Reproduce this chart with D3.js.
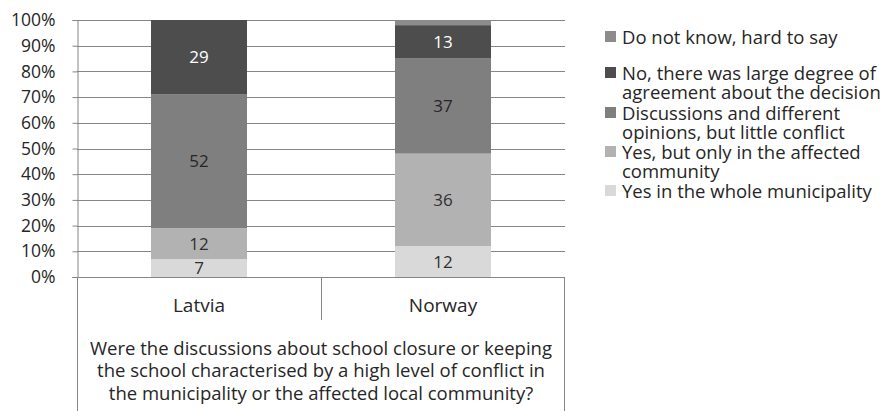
<!DOCTYPE html>
<html>
<head>
<meta charset="utf-8">
<script src="https://cdn.jsdelivr.net/npm/d3@7"></script>
<style>
  body { margin: 0; background: #fff; }
  svg { display: block; font-family: "Open Sans", sans-serif; }
</style>
</head>
<body>
<svg id="chart" width="891" height="411"></svg>
<script>
// data (percent of respondents)
const countries = ["Latvia", "Norway"];
const answers = [
  "Yes in the whole municipality",
  "Yes, but only in the affected community",
  "Discussions and different opinions, but little conflict",
  "No, there was large degree of agreement about the decision",
  "Do not know, hard to say"
];
const latvia = [7, 12, 52, 29, 0];
const norway = [12, 36, 37, 13, 2];
const yTicks = [0, 10, 20, 30, 40, 50, 60, 70, 80, 90, 100];
const legendLines = [
  ["Yes in the whole municipality"],
  ["Yes, but only in the affected", "community"],
  ["Discussions and different", "opinions, but little conflict"],
  ["No, there was large degree of", "agreement about the decision"],
  ["Do not know, hard to say"]
];
const question = [
  "Were the discussions about school closure or keeping",
  "the school characterised by a high level of conflict in",
  "the municipality or the affected local community?"
];

const colors = ["#d9d9d9", "#b2b2b2", "#7f7f7f", "#4d4d4d", "#8c8c8c"];
const labelColors = ["#303030", "#303030", "#262626", "#ffffff", "#303030"];

const svg = d3.select("#chart");
const width = 891, height = 411;
const margin = { top: 20, left: 77, right: 326, bottom: 134 };
const plotRight = width - margin.right;
const plotBottom = height - margin.bottom;

const x = d3.scaleBand()
  .domain(countries)
  .range([margin.left, plotRight]);

const y = d3.scaleLinear()
  .domain([0, 100])
  .range([plotBottom, margin.top]);

const color = d3.scaleOrdinal().domain(answers).range(colors);

// stack the values per country
const table = countries.map((c, i) => {
  const row = { country: c };
  const vals = i === 0 ? latvia : norway;
  answers.forEach((a, j) => row[a] = vals[j]);
  return row;
});
const series = d3.stack().keys(answers)(table);

// gridlines
svg.append("g")
  .selectAll("line")
  .data(yTicks.filter(d => d > 0))
  .join("line")
    .attr("x1", margin.left)
    .attr("x2", plotRight)
    .attr("y1", d => Math.round(y(d)) + 0.5)
    .attr("y2", d => Math.round(y(d)) + 0.5)
    .attr("stroke", "#868686");

// y axis
const yAxis = svg.append("g")
  .attr("transform", `translate(${margin.left + 0.5},0)`)
  .call(d3.axisLeft(y).tickValues(yTicks).tickSize(5).tickPadding(17).tickFormat(d => d + "%"));
yAxis.select(".domain").attr("stroke", "#868686");
yAxis.selectAll(".tick line").attr("stroke", "#868686");
yAxis.selectAll(".tick text")
  .attr("fill", "#262626")
  .style("font-size", "17.5px")
  .style("font-family", "'Open Sans', sans-serif");

// bars
const barW = 96;
svg.append("g")
  .selectAll("g")
  .data(series)
  .join("g")
    .attr("fill", d => color(d.key))
  .selectAll("rect")
  .data(d => d)
  .join("rect")
    .attr("x", d => x(d.data.country) + x.bandwidth() / 2 - barW / 2)
    .attr("y", d => y(d[1]))
    .attr("width", barW)
    .attr("height", d => y(d[0]) - y(d[1]));

// value labels
series.forEach((s, si) => {
  svg.append("g")
    .selectAll("text")
    .data(s.filter(d => d[1] - d[0] >= 5))
    .join("text")
      .attr("x", d => x(d.data.country) + x.bandwidth() / 2)
      .attr("y", d => (y(d[0]) + y(d[1])) / 2)
      .attr("dy", "0.36em")
      .attr("text-anchor", "middle")
      .attr("fill", labelColors[si])
      .style("font-size", "17px")
      .text(d => d[1] - d[0]);
});

// category table below the plot
const box = svg.append("g").attr("stroke", "#868686").attr("fill", "none");
box.append("line")
  .attr("x1", margin.left - 5).attr("x2", plotRight)
  .attr("y1", plotBottom + 0.5).attr("y2", plotBottom + 0.5);
box.append("line")
  .attr("x1", margin.left + 0.5).attr("x2", margin.left + 0.5)
  .attr("y1", plotBottom).attr("y2", height);
box.append("line")
  .attr("x1", plotRight - 0.5).attr("x2", plotRight - 0.5)
  .attr("y1", plotBottom).attr("y2", height);
box.append("line")
  .attr("x1", Math.round(x("Norway")) + 0.5).attr("x2", Math.round(x("Norway")) + 0.5)
  .attr("y1", plotBottom).attr("y2", plotBottom + 43);

svg.append("g")
  .selectAll("text")
  .data(countries)
  .join("text")
    .attr("x", d => x(d) + x.bandwidth() / 2)
    .attr("y", plotBottom + 35)
    .attr("text-anchor", "middle")
    .attr("fill", "#262626")
    .style("font-size", "19px")
    .text(d => d);

svg.append("g")
  .selectAll("text")
  .data(question)
  .join("text")
    .attr("x", (margin.left + plotRight) / 2)
    .attr("y", (d, i) => plotBottom + 78 + i * 22.3)
    .attr("text-anchor", "middle")
    .attr("fill", "#262626")
    .style("font-size", "18.5px")
    .text(d => d);

// legend, drawn top to bottom in reverse stack order
const legendTop = [37, 73, 113, 152, 191];
const legend = svg.append("g").attr("transform", "translate(605,0)");
answers.slice().reverse().forEach((a, i) => {
  const lines = legendLines[answers.length - 1 - i];
  const yy = legendTop[i];
  legend.append("rect")
    .attr("x", 0)
    .attr("y", yy - 6)
    .attr("width", 11)
    .attr("height", 11)
    .attr("fill", color(a));
  lines.forEach((t, k) => {
    legend.append("text")
      .attr("x", 17)
      .attr("y", yy + k * 19.5)
      .attr("dy", "0.36em")
      .attr("fill", "#262626")
      .style("font-size", "18.5px")
      .text(t);
  });
});
</script>
</body>
</html>
